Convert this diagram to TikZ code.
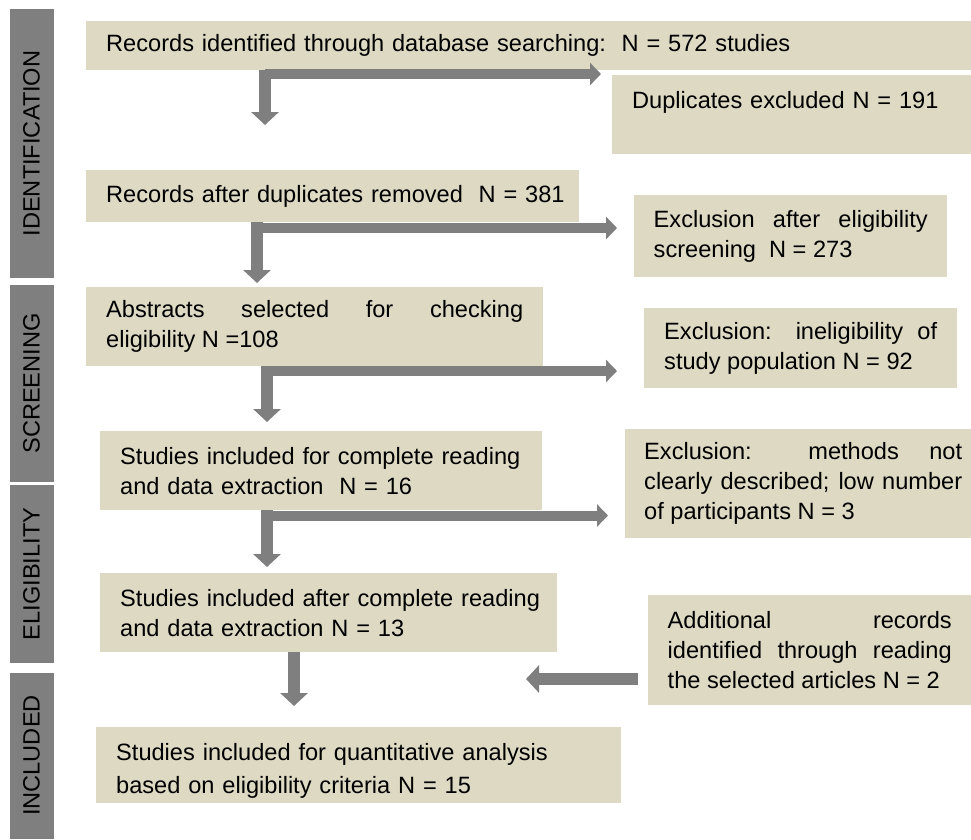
\documentclass[tikz,border=0pt]{standalone}
\usepackage{fontspec}
\setmainfont{Liberation Sans}
\usetikzlibrary{arrows.meta}
\definecolor{boxfill}{HTML}{DDD9C3}
\definecolor{bargray}{HTML}{7F7F7F}
\hyphenpenalty=10000

\begin{document}
\begin{tikzpicture}[x=1pt, y=-1pt,
	every node/.style={font=\fontsize{23.6}{30}\selectfont},
	flowbox/.style={fill=boxfill, anchor=north west, inner xsep=20pt, inner ysep=0pt, align=left},
	sidebar/.style={fill=bargray, rotate=90, minimum height=44pt, inner sep=0pt},
	arr/.style={draw=bargray, line width=12pt, -{Triangle[width=27pt,length=13pt]}},
	harr/.style={draw=bargray, line width=10pt, -{Triangle[width=22pt,length=11pt]}}]
\useasboundingbox (0,0) rectangle (971,839);

% phase bars
\foreach \nm/\yy/\len/\lab in {id/143.5/269/IDENTIFICATION, scr/383.5/197/SCREENING, elig/574/178/ELIGIBILITY, inc/755.5/166/INCLUDED}{
	\node[sidebar, minimum width=\len pt](\nm) at(31.5,\yy) {\lab};
}

% boxes
\node[flowbox, text width=845pt, minimum height=49pt](rec) at(86,21) {Records identified through database searching:~~N = 572 studies};
\node[flowbox, text width=319pt, minimum height=79pt](dup) at(612,75) {Duplicates excluded N = 191\\~};
\node[flowbox, text width=453pt, minimum height=52pt](after) at(86,170) {\mbox{Records after duplicates removed~~N = 381}};
\node[flowbox, text width=274pt, minimum height=82pt, align=justify, inner xsep=19.5pt](exc1) at(634,195) {Exclusion after eligibility\linebreak screening~~N = 273};
\node[flowbox, text width=417pt, minimum height=79pt, align=justify](abs) at(86,287) {Abstracts selected for checking\linebreak eligibility N =108};
\node[flowbox, text width=273pt, minimum height=80pt, align=justify](exc2) at(644,308) {Exclusion: ineligibility of\linebreak study population N = 92};
\node[flowbox, text width=402pt, minimum height=79pt](full) at(100,431) {\mbox{Studies included for complete reading}\\and data extraction~~N = 16};
\node[flowbox, text width=318pt, minimum height=109pt, align=justify, inner xsep=19pt](exc3) at(625,429) {Exclusion: methods not\linebreak clearly described; low number\linebreak of participants N = 3};
\node[flowbox, text width=417pt, minimum height=79pt](read) at(100,573) {\mbox{Studies included after complete reading}\\and data extraction N = 13};
\node[flowbox, text width=284pt, minimum height=110pt, align=justify, inner xsep=19.5pt](add) at(648,595) {Additional records\linebreak identified through reading\linebreak the selected articles N = 2};
\node[flowbox, text width=485pt, minimum height=76pt, text height=29pt, font=\fontsize{23.6}{33}\selectfont](quant) at(96,727) {Studies included for quantitative analysis\\based on eligibility criteria N = 15};

% arrow ends
\coordinate(t1) at(265,125);
\coordinate(h1) at(601,74);
\coordinate(t2) at(257,283);
\coordinate(h2) at(617,228);
\coordinate(t3) at(267,422);
\coordinate(h3) at(617,371);
\coordinate(t4) at(267,567);
\coordinate(h4) at(608,515.5);
\coordinate(t5) at(294,706);
\coordinate(t6) at(526,679);

\foreach \u \v in {rec/1, after/2, abs/3, full/4}{
	\draw[arr] (\u.south -| t\v) -- (t\v);
	\draw[harr] (t\v |- h\v) -- (h\v);
}
\draw[arr] (read.south -| t5) -- (t5);
\draw[arr] ([xshift=-10pt]add.west |- t6) -- (t6);

\end{tikzpicture}
\end{document}
